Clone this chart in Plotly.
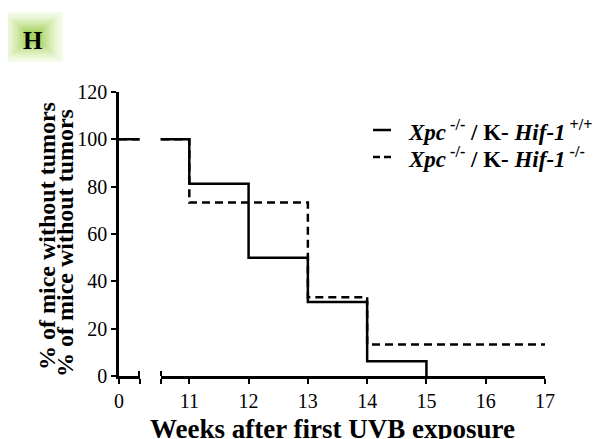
import plotly.graph_objects as go

# ---- data ----
weeks_ticks = [11, 12, 13, 14, 15, 16, 17]
y_ticks = [0, 20, 40, 60, 80, 100, 120]

solid_weeks = [0, 11, 12, 13, 14, 15]
solid_pct = [100, 81.25, 50, 31.25, 6.25, 0]

dashed_weeks = [0, 11, 13, 14, 17]
dashed_pct = [100, 73.3, 33.3, 13.3, 13.3]

solid_name = "<b><i>Xpc</i><sup> -/-</sup> / K- <i>Hif-1</i><sup> +/+</sup></b>"
dashed_name = "<b><i>Xpc</i><sup> -/-</sup> / K- <i>Hif-1</i><sup> -/-</sup></b>"
y_title = "% of mice without tumors"
x_title = "Weeks after first UVB exposure"

# ---- layout geometry (pixels of the 603x439 window) ----
PAGE_OFF = 8  # default body margin of the html page
Wfig, Hfig = 603 - PAGE_OFF, 439 - PAGE_OFF
L, R, T, B = 119, 545, 92, 376
PW, PH = R - L, B - T


def px(x):
    return (x - L) / PW


def py(y):
    return (B - y) / PH


FONT = "Liberation Serif"
seg1_end = 139.5
seg2_start = 160.5
x2_start = 11 - (189.3 - seg2_start) / ((545 - 189.3) / 6)

DASH = "8px,5px"

fig = go.Figure()
for xa in ("x", "x2"):
    fig.add_trace(go.Scatter(
        x=solid_weeks, y=solid_pct, xaxis=xa, yaxis="y", mode="lines",
        line=dict(color="black", width=2.5, shape="hv"),
        name="solid", showlegend=False))
    fig.add_trace(go.Scatter(
        x=dashed_weeks, y=dashed_pct, xaxis=xa, yaxis="y", mode="lines",
        line=dict(color="black", width=2.5, shape="hv", dash=DASH),
        name="dashed", showlegend=False))

axis_common = dict(
    showline=True, linecolor="black", linewidth=2.5, showgrid=False,
    zeroline=False, ticks="outside", ticklen=5, tickwidth=2,
    tickcolor="black", tickfont=dict(family=FONT, size=20, color="black"),
)

fig.update_layout(
    width=Wfig, height=Hfig,
    margin=dict(l=L - PAGE_OFF, r=603 - R, t=T - PAGE_OFF, b=439 - B, pad=0),
    paper_bgcolor="white", plot_bgcolor="white",
    xaxis=dict(domain=[0, px(seg1_end)], range=[0, 1], tickvals=[0, 1],
               ticktext=["0", ""], anchor="y",
               minor=dict(ticks="inside", tickvals=[0.999], ticklen=5,
                          tickwidth=2, tickcolor="black"),
               **axis_common),
    xaxis2=dict(domain=[px(seg2_start), 1], range=[x2_start, 17],
                tickvals=[x2_start] + weeks_ticks,
                ticktext=[""] + [str(w) for w in weeks_ticks], anchor="y",
                minor=dict(ticks="inside", tickvals=[x2_start + 0.001],
                           ticklen=5, tickwidth=2, tickcolor="black"),
                **axis_common),
    yaxis=dict(range=[0, 120], tickvals=y_ticks, anchor="x", **axis_common),
    showlegend=False,
)

# legend (samples + labels)
for name, dash, yc in ((solid_name, "solid", 130), (dashed_name, "7px,4px", 157)):
    fig.add_shape(type="line", xref="paper", yref="paper",
                  x0=px(373), x1=px(391), y0=py(yc), y1=py(yc),
                  line=dict(color="black", width=2.5, dash=dash))
    fig.add_annotation(text=name, xref="paper", yref="paper",
                       x=px(406), y=py(yc), xanchor="left", yanchor="middle",
                       showarrow=False,
                       font=dict(family=FONT, size=23, color="black"))

# y-axis title: duplicated line, as in the reference
for xc, yc in ((47, 236), (65, 243)):
    fig.add_annotation(text=f"<b>{y_title}</b>", textangle=-90,
                       xref="paper", yref="paper", x=px(xc), y=py(yc),
                       xanchor="center", yanchor="middle", showarrow=False,
                       font=dict(family=FONT, size=24, color="black"))

# x-axis title (cut by the bottom edge)
fig.add_annotation(text=f"<b>{x_title}</b>", xref="paper", yref="paper",
                   x=px(332), y=py(429), xanchor="center", yanchor="middle",
                   showarrow=False, font=dict(family=FONT, size=27, color="black"))

# panel label "H" in a green gradient box
x0, x1, y0, y1 = 3, 63, 12, 62
c_out = (244, 251, 232)
c_in = (168, 212, 100)
n = 9
for i in range(n):
    t = (i / (n - 1)) ** 1.3
    col = tuple(round(c_out[k] + (c_in[k] - c_out[k]) * t) for k in range(3))
    inset = i * 2.8
    fig.add_shape(type="rect", xref="paper", yref="paper",
                  x0=px(x0 + inset), x1=px(x1 - inset),
                  y0=py(y1 - inset * 0.83), y1=py(y0 + inset * 0.83),
                  line=dict(width=0), fillcolor="rgb(%d,%d,%d)" % col,
                  layer="below")
fig.add_annotation(text="<b>H</b>", xref="paper", yref="paper",
                   x=px(33), y=py(40), xanchor="center", yanchor="middle",
                   showarrow=False, font=dict(family=FONT, size=25, color="black"))

fig.write_html("out.html")
